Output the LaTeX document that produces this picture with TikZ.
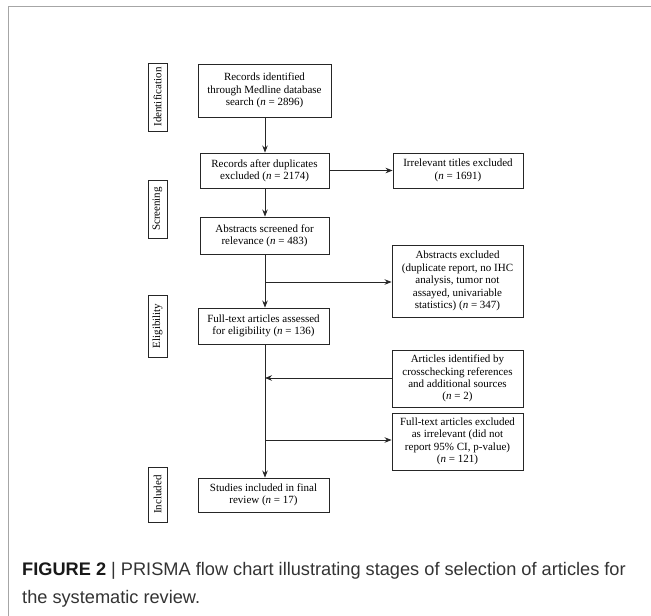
\documentclass[tikz,border=0pt]{standalone}
\usepackage{fontspec}
\setmainfont{Liberation Serif}
\newfontfamily\capfont{Liberation Sans}
\usetikzlibrary{arrows.meta}
\begin{document}
\begin{tikzpicture}[x=1pt,y=-1pt,
  box/.style={draw=black!85, line width=0.9pt, align=center, inner sep=0pt,
    font=\fontsize{11}{12.4}\selectfont},
  lab/.style={draw=black!85, line width=0.9pt, inner sep=0pt, rotate=90,
    font=\fontsize{11}{12.4}\selectfont},
  conn/.style={line width=0.8pt, black!85},
  arr/.style={conn, -{Stealth[length=7pt,width=5.5pt]}}]
\useasboundingbox (0,0) rectangle (651,616);
% frame
\draw[line width=1.5pt, black!35] (8.5,616) -- (8.5,6.5) -- (651,6.5);
% stage labels
\node[lab, minimum width=68pt, minimum height=19pt] (lid) at (157.5,97) {Identification};
\node[lab, minimum width=58pt, minimum height=19pt] (lsc) at (157.5,209) {Screening};
\node[lab, minimum width=62pt, minimum height=19pt] (lel) at (157.5,326) {Eligibility};
\node[lab, minimum width=55pt, minimum height=19pt] (lin) at (157.5,494.5) {Included};
% main boxes
\node[box, minimum width=133pt, minimum height=53pt] (rec1) at (264.5,90.5)
  {Records identified\\through Medline database\\search (\textit{n} = 2896)};
\node[box, minimum width=129pt, minimum height=35pt] (rec2) at (264.5,170.5)
  {Records after duplicates\\excluded (\textit{n} = 2174)};
\node[box, minimum width=130pt, minimum height=35pt] (irr) at (458,170.5)
  {Irrelevant titles excluded\\(\textit{n} = 1691)};
\node[box, minimum width=129pt, minimum height=37pt] (abs) at (264.5,235.5)
  {Abstracts screened for\\relevance (\textit{n} = 483)};
\node[box, minimum width=131pt, minimum height=72pt] (absx) at (457.5,281)
  {Abstracts excluded\\(duplicate report, no IHC\\analysis, tumor not\\assayed, univariable\\statistics) (\textit{n} = 347)};
\node[box, minimum width=131pt, minimum height=36pt] (ft) at (263.5,326)
  {Full-text articles assessed\\for eligibility (\textit{n} = 136)};
\node[box, minimum width=131pt, minimum height=57pt] (art) at (457.5,378.5)
  {Articles identified by\\crosschecking references\\and additional sources\\(\textit{n} = 2)};
\node[box, minimum width=131pt, minimum height=57pt] (ftx) at (457.5,441.5)
  {Full-text articles excluded\\as irrelevant (did not\\report 95\% CI, p-value)\\(\textit{n} = 121)};
\node[box, minimum width=131pt, minimum height=34pt] (stu) at (263.5,495)
  {Studies included in final\\review (\textit{n} = 17)};
% connectors
\coordinate (b1) at (265,282);
\coordinate (b2) at (265,378);
\coordinate (b3) at (265,440);
\draw[arr] (rec1.south -| b1) -- (rec2.north -| b1);
\draw[arr] (rec2.east) -- (irr.west);
\draw[arr] (rec2.south -| b1) -- (abs.north -| b1);
\draw[arr] (abs.south -| b1) -- (ft.north -| b1);
\draw[arr] (b1) -- (b1 -| absx.west);
\draw[arr] (ft.south -| b1) -- (stu.north -| b1);
\draw[arr] (art.west |- b2) -- (b2);
\draw[arr] (b3) -- (b3 -| ftx.west);
% caption
\node[anchor=base west, inner sep=0pt, text=black!80, font=\capfont\fontsize{18.2}{28}\selectfont] (cap1) at (22,575)
  {\textbf{\color{black!90}FIGURE 2} | PRISMA flow chart illustrating stages of selection of articles for};
\node[anchor=base west, inner sep=0pt, text=black!80, font=\capfont\fontsize{18.2}{28}\selectfont] (cap2) at (22,603)
  {the systematic review.};
\end{tikzpicture}
\end{document}
